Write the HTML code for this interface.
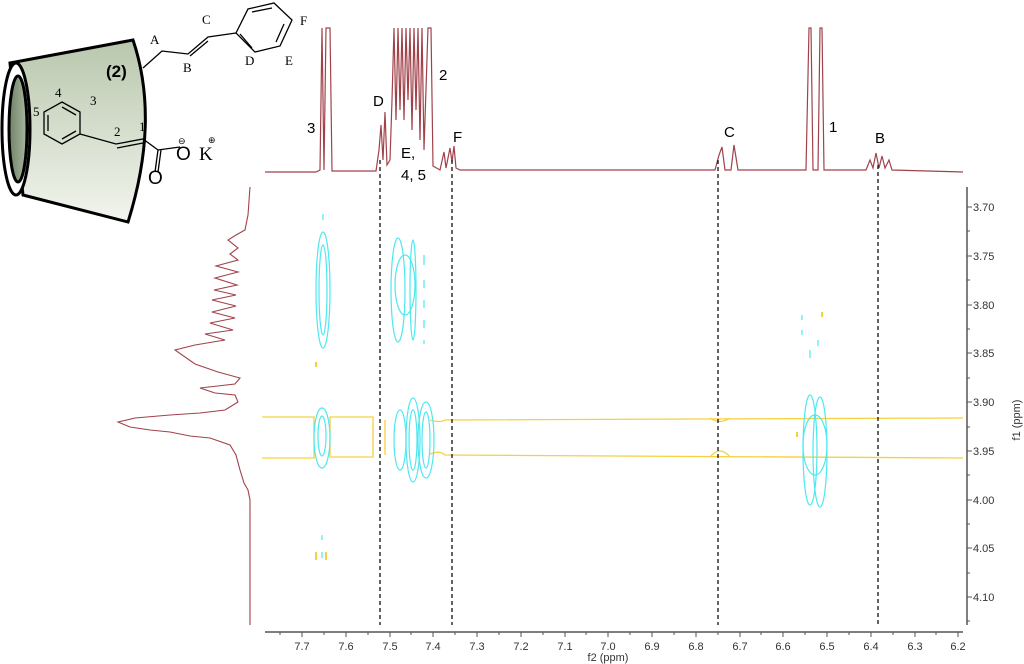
<!DOCTYPE html>
<html><head><meta charset="utf-8"><style>
body{margin:0;background:#fff;}
svg{display:block;font-family:"Liberation Sans",sans-serif;}
</style></head><body>
<svg width="1024" height="664" viewBox="0 0 1024 664" xmlns="http://www.w3.org/2000/svg">
<defs>
<linearGradient id="g" x1="0" y1="0" x2="0" y2="1">
<stop offset="0" stop-color="#b9c7ad"/><stop offset="1" stop-color="#f2f5ee"/>
</linearGradient>
<linearGradient id="g2" x1="0" y1="0" x2="1" y2="0">
<stop offset="0" stop-color="#6f8266"/><stop offset="1" stop-color="#a9b8a0"/>
</linearGradient>
</defs>
<path d="M10,63 L133,40 Q160,120 128,222 L23,195 Z" fill="url(#g)" stroke="#000" stroke-width="3"/>
<ellipse cx="16" cy="129" rx="14" ry="66" fill="#fff" stroke="#000" stroke-width="3"/>
<ellipse cx="18" cy="129" rx="9" ry="53" fill="url(#g2)" stroke="#000" stroke-width="3"/>
<g stroke="#000" stroke-width="1.3" fill="none">
<path d="M143,68 L162,51 L188,54 L208,37 L236,33"/><path d="M190,56 L208,41"/>
<polygon points="236,33 248,9 274,3 292,20 280,46 255,52"/>
<path d="M252,12 L272,8 M284,24 L276,42 M240,34 L252,48"/>
<polygon points="62,102 80,112 80,134 62,144 44,134 44,112"/>
<path d="M62,107 L76,115 M76,131 L62,139 M48,131 L48,115"/>
<path d="M80,134 L116,144 L143,139 L158,150 L180,147"/><path d="M117,148 L143,143"/>
<path d="M158,150 L155,172 M161,150 L158,172"/>
</g>
<g font-family="Liberation Serif,serif" font-size="13">
<text x="150" y="44">A</text><text x="183" y="72">B</text><text x="202" y="24">C</text><text x="300" y="25">F</text>
<text x="245" y="65">D</text><text x="285" y="65">E</text>
<text x="55" y="97">4</text><text x="90" y="105">3</text><text x="33" y="116">5</text>
<text x="114" y="136">2</text><text x="139" y="131">1</text>
<text x="176" y="160" font-size="19" font-family="Liberation Sans">O</text>
<text x="199" y="160" font-size="19">K</text>
<text x="148" y="184" font-size="19" font-family="Liberation Sans">O</text>
<text x="178" y="144" font-size="9">⊖</text><text x="208" y="143" font-size="9">⊕</text>
</g>
<text x="106" y="77" font-size="17" font-weight="bold">(2)</text>
<polyline fill="none" stroke="#a0424a" stroke-width="1.2" points="265,172 316,172 320,170 322,28 324,170 326,28 330,28 332,171 376,171 379,150 381,125 383,160 385,112 387,165 390,160 392,100 394,28 396,120 398,28 400,110 402,28 404,120 406,28 408,100 410,28 412,130 414,28 416,110 418,28 420,140 422,28 424,150 428,28 431,28 433,166 440,170 444,152 446,168 450,148 452,162 454,146 456,168 460,170 715,170 719,155 722,147 725,170 731,170 734,145 738,170 806,170 809,28 811,28 813,170 818,170 820,28 822,28 824,170 866,170 870,160 873,168 876,153 879,168 882,156 885,168 889,160 892,170 963,172"/>
<g font-size="15" fill="#000">
<text x="307" y="133">3</text><text x="373" y="106">D</text><text x="439" y="80">2</text>
<text x="401" y="158">E,</text><text x="401" y="180">4, 5</text><text x="453" y="142">F</text>
<text x="724" y="137">C</text><text x="829" y="132">1</text><text x="875" y="143">B</text>
</g>
<polyline fill="none" stroke="#a0424a" stroke-width="1.1" points="250,625 250,500 248,490 244,483 240,470 236,455 230,445 210,438 190,436 170,432 150,430 130,427 118,422 135,418 170,415 200,413 225,410 238,402 235,395 215,393 200,388 235,384 240,378 218,372 195,364 175,350 195,345 225,340 205,334 233,330 210,323 235,318 212,312 236,306 212,300 236,295 214,290 237,285 215,278 238,272 216,266 238,260 230,254 238,248 228,240 236,235 245,230 248,215 250,187"/>
<g stroke="#555" stroke-width="1.5" fill="none">
<line x1="265" y1="632" x2="963" y2="632"/>
<line x1="967" y1="187" x2="967" y2="625"/>
</g>
<g stroke="#555" stroke-width="1">
<path d="M302,632v5M346,632v5M390,632v5M433,632v5M477,632v5M521,632v5M565,632v5M608,632v5M652,632v5M696,632v5M740,632v5M783,632v5M827,632v5M871,632v5M915,632v5M958,632v5"/>
<path d="M280,632v3M324,632v3M368,632v3M411,632v3M455,632v3M499,632v3M543,632v3M586,632v3M630,632v3M674,632v3M718,632v3M761,632v3M805,632v3M849,632v3M893,632v3M936,632v3"/>
<path d="M967,207h5M967,256h5M967,305h5M967,353h5M967,402h5M967,451h5M967,500h5M967,548h5M967,597h5"/>
<path d="M967,231h3M967,280h3M967,329h3M967,378h3M967,427h3M967,475h3M967,524h3M967,573h3M967,621h3"/>
</g>
<g font-size="11" fill="#333" text-anchor="middle">
<text x="302" y="650">7.7</text><text x="346" y="650">7.6</text><text x="390" y="650">7.5</text><text x="433" y="650">7.4</text><text x="477" y="650">7.3</text><text x="521" y="650">7.2</text><text x="565" y="650">7.1</text><text x="608" y="650">7.0</text><text x="652" y="650">6.9</text><text x="696" y="650">6.8</text><text x="740" y="650">6.7</text><text x="783" y="650">6.6</text><text x="827" y="650">6.5</text><text x="871" y="650">6.4</text><text x="915" y="650">6.3</text><text x="958" y="650">6.2</text>
<text x="608" y="661">f2 (ppm)</text>
</g>
<g font-size="11" fill="#333">
<text x="973" y="211">3.70</text><text x="973" y="260">3.75</text><text x="973" y="309">3.80</text><text x="973" y="357">3.85</text><text x="973" y="406">3.90</text><text x="973" y="455">3.95</text><text x="973" y="504">4.00</text><text x="973" y="552">4.05</text><text x="973" y="601">4.10</text>
<text transform="translate(1020,420) rotate(-90)" text-anchor="middle">f1 (ppm)</text>
</g>
<g fill="none" stroke="#f5d040" stroke-width="1.3">
<path d="M262,417 L314,417 L314,458 L262,458"/>
<path d="M330,417 L373,417 L373,457 L330,457 Z"/>
<path d="M385,420 L385,455"/>
<path d="M430,420 Q440,423 445,420 L963,418 M430,454 Q440,450 445,455 L963,458"/>
<path d="M710,418 Q720,425 730,418 M710,457 Q720,445 730,457"/>
</g>
<g fill="none" stroke="#4de8f0" stroke-width="1.2">
<ellipse cx="323" cy="290" rx="7" ry="58"/><ellipse cx="323" cy="290" rx="4" ry="45"/><line x1="323" y1="214" x2="323" y2="220"/>
<ellipse cx="322" cy="438" rx="8" ry="30"/><ellipse cx="322" cy="436" rx="4" ry="20"/>
<ellipse cx="398" cy="290" rx="7" ry="52"/><ellipse cx="405" cy="285" rx="10" ry="30"/><ellipse cx="413" cy="290" rx="3" ry="50"/>
<path d="M424,255v10M424,280v8M424,300v8M424,320v8M424,340v4"/>
<ellipse cx="400" cy="440" rx="6" ry="30"/><ellipse cx="413" cy="440" rx="7" ry="42"/><ellipse cx="413" cy="440" rx="4" ry="30"/>
<ellipse cx="426" cy="440" rx="8" ry="38"/><ellipse cx="426" cy="440" rx="4" ry="28"/>
<ellipse cx="810" cy="450" rx="7" ry="55"/><ellipse cx="820" cy="452" rx="7" ry="55"/><ellipse cx="815" cy="445" rx="12" ry="30"/>
<path d="M802,315v5M802,330v5M810,350v8M818,340v6M322,535v5M322,552v6"/>
</g>
<path d="M316,362v5M316,552v8M326,552v8M822,312v5M797,432v5" stroke="#f5d040" stroke-width="2"/>
<g stroke="#111" stroke-width="1.3" stroke-dasharray="4,3">
<line x1="380" y1="160" x2="380" y2="625"/><line x1="452" y1="160" x2="452" y2="625"/>
<line x1="718" y1="160" x2="718" y2="625"/><line x1="878" y1="165" x2="878" y2="625"/>
</g>
</svg>
</body></html>
